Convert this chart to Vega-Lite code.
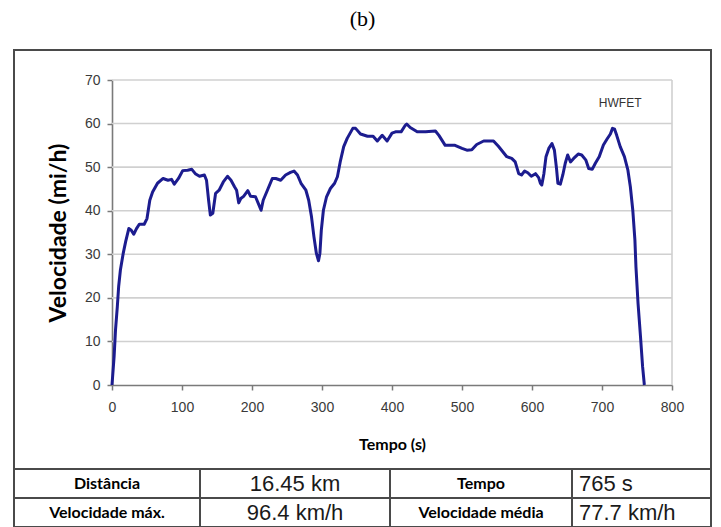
{
  "$schema": "https://vega.github.io/schema/vega-lite/v6.json",
  "title": {
    "text": "(b)",
    "font": "Liberation Serif",
    "fontSize": 22,
    "fontWeight": "normal",
    "color": "#000000",
    "anchor": "middle",
    "offset": 18
  },
  "padding": {"left": 13, "top": 8, "right": 9, "bottom": 0},
  "spacing": 0,
  "bounds": "flush",
  "vconcat": [
    {
      "width": 697,
      "height": 419,
      "view": {"stroke": "#4a4a4a", "strokeWidth": 2},
      "layer": [
        {
          "data": {
            "values": [
              {"x0": 0, "x1": 800, "y0": 10, "y1": 10},
              {"x0": 0, "x1": 800, "y0": 20, "y1": 20},
              {"x0": 0, "x1": 800, "y0": 30, "y1": 30},
              {"x0": 0, "x1": 800, "y0": 40, "y1": 40},
              {"x0": 0, "x1": 800, "y0": 50, "y1": 50},
              {"x0": 0, "x1": 800, "y0": 60, "y1": 60},
              {"x0": 0, "x1": 800, "y0": 70, "y1": 70},
              {"x0": 800, "x1": 800, "y0": 0, "y1": 70}
            ]
          },
          "mark": {"type": "rule", "color": "#d0d0d0", "strokeWidth": 1.6},
          "encoding": {
            "x": {"field": "x0", "type": "quantitative"},
            "x2": {"field": "x1"},
            "y": {"field": "y0", "type": "quantitative"},
            "y2": {"field": "y1"}
          }
        },
        {
          "data": {
            "values": [
              {"t": 0, "v": 0}, {"t": 3, "v": 6.5}, {"t": 5, "v": 12.6}, {"t": 7.6, "v": 18},
              {"t": 9.5, "v": 22.6}, {"t": 12, "v": 26.4}, {"t": 16, "v": 30.2}, {"t": 19.5, "v": 32.9},
              {"t": 24, "v": 35.9}, {"t": 27.5, "v": 35.5}, {"t": 31, "v": 34.6}, {"t": 35, "v": 35.9},
              {"t": 39, "v": 36.9}, {"t": 46, "v": 36.9}, {"t": 50, "v": 38.2}, {"t": 54, "v": 42.4},
              {"t": 58, "v": 44.3}, {"t": 65, "v": 46.3}, {"t": 73, "v": 47.4}, {"t": 80, "v": 47},
              {"t": 85, "v": 47.2}, {"t": 89, "v": 46.1}, {"t": 95, "v": 47.4}, {"t": 101, "v": 49.2},
              {"t": 108, "v": 49.3}, {"t": 114, "v": 49.5}, {"t": 119, "v": 48.5}, {"t": 125, "v": 47.9},
              {"t": 132, "v": 48.2}, {"t": 135, "v": 47}, {"t": 138, "v": 42.4}, {"t": 140.5, "v": 39},
              {"t": 144, "v": 39.4}, {"t": 148, "v": 44}, {"t": 153, "v": 44.7}, {"t": 159, "v": 46.6},
              {"t": 165, "v": 47.9}, {"t": 170, "v": 47}, {"t": 175, "v": 45.5}, {"t": 178, "v": 44.7},
              {"t": 181, "v": 41.8}, {"t": 184, "v": 42.8}, {"t": 188, "v": 43.3}, {"t": 194, "v": 44.6},
              {"t": 198, "v": 43.3}, {"t": 205, "v": 43.2}, {"t": 210, "v": 41.3}, {"t": 213, "v": 40.1},
              {"t": 216, "v": 42.4}, {"t": 222, "v": 44.7}, {"t": 229, "v": 47.4}, {"t": 234, "v": 47.4},
              {"t": 241, "v": 47}, {"t": 248, "v": 48.2}, {"t": 255, "v": 48.8}, {"t": 260, "v": 49.1},
              {"t": 265, "v": 48.2}, {"t": 270, "v": 46.3}, {"t": 277, "v": 44.7}, {"t": 281, "v": 42.4},
              {"t": 285, "v": 38.6}, {"t": 288.5, "v": 34}, {"t": 292, "v": 30.2}, {"t": 295, "v": 28.5},
              {"t": 297, "v": 30.2}, {"t": 299, "v": 35.5}, {"t": 302, "v": 40.1}, {"t": 306.5, "v": 43.2},
              {"t": 312, "v": 45.1}, {"t": 318, "v": 46.3}, {"t": 322, "v": 47.8}, {"t": 326, "v": 51.2},
              {"t": 331, "v": 54.7}, {"t": 336, "v": 56.6}, {"t": 344, "v": 58.9}, {"t": 348, "v": 58.9},
              {"t": 355, "v": 57.6}, {"t": 365, "v": 57.1}, {"t": 373, "v": 57.1}, {"t": 379, "v": 56},
              {"t": 386, "v": 57.3}, {"t": 393, "v": 56}, {"t": 400, "v": 57.8}, {"t": 405, "v": 58.1},
              {"t": 413, "v": 58.1}, {"t": 419, "v": 59.6}, {"t": 421, "v": 59.9}, {"t": 426, "v": 59.1},
              {"t": 436, "v": 58.1}, {"t": 448, "v": 58.1}, {"t": 462, "v": 58.3}, {"t": 467, "v": 57.3},
              {"t": 476, "v": 55}, {"t": 490, "v": 55}, {"t": 500, "v": 54.3}, {"t": 507, "v": 53.9},
              {"t": 514, "v": 54}, {"t": 521, "v": 55.2}, {"t": 531, "v": 56}, {"t": 545, "v": 56},
              {"t": 552, "v": 54.8}, {"t": 564, "v": 52.4}, {"t": 571, "v": 52}, {"t": 576, "v": 51.2},
              {"t": 581, "v": 48.5}, {"t": 585, "v": 48.2}, {"t": 589.5, "v": 49.1}, {"t": 594, "v": 48.7},
              {"t": 599, "v": 47.9}, {"t": 605, "v": 48.5}, {"t": 609.5, "v": 47.6}, {"t": 612, "v": 46.3},
              {"t": 614, "v": 45.9}, {"t": 617, "v": 48.5}, {"t": 620, "v": 52.4}, {"t": 624, "v": 54.3},
              {"t": 628.5, "v": 55.4}, {"t": 632, "v": 53.9}, {"t": 635, "v": 49.7}, {"t": 637, "v": 46.3},
              {"t": 640.5, "v": 46.1}, {"t": 644, "v": 48.2}, {"t": 647.5, "v": 50.9}, {"t": 651, "v": 52.8},
              {"t": 655, "v": 51.2}, {"t": 659.5, "v": 52}, {"t": 666, "v": 53}, {"t": 671, "v": 52.8},
              {"t": 677, "v": 51.6}, {"t": 681, "v": 49.7}, {"t": 686, "v": 49.5}, {"t": 690.5, "v": 50.9},
              {"t": 696, "v": 52.4}, {"t": 702, "v": 55.1}, {"t": 707, "v": 56.4}, {"t": 712, "v": 57.6},
              {"t": 715, "v": 58.9}, {"t": 718, "v": 58.7}, {"t": 721, "v": 57.3}, {"t": 726, "v": 54.7},
              {"t": 732, "v": 52.4}, {"t": 737, "v": 49.3}, {"t": 740.5, "v": 45.5}, {"t": 744, "v": 40.1},
              {"t": 747, "v": 33.3}, {"t": 748.5, "v": 27.1}, {"t": 751.5, "v": 18.7}, {"t": 755, "v": 11.1},
              {"t": 758, "v": 4.2}, {"t": 760.5, "v": 0}
            ]
          },
          "mark": {"type": "line", "color": "#1c1c8f", "strokeWidth": 3, "strokeJoin": "round"},
          "encoding": {
            "x": {
              "field": "t",
              "type": "quantitative",
              "scale": {"domain": [0, 800], "range": [98, 658], "nice": false},
              "axis": {
                "orient": "bottom",
                "offset": -84,
                "values": [0, 100, 200, 300, 400, 500, 600, 700, 800],
                "grid": false,
                "domainColor": "#7a7a7a",
                "domainWidth": 1.6,
                "tickColor": "#7a7a7a",
                "tickWidth": 1.5,
                "tickSize": 5,
                "labelFont": "Liberation Sans",
                "labelFontSize": 14,
                "labelColor": "#3a3a3a",
                "labelPadding": 10,
                "labelFlush": false,
                "title": "Tempo (s)",
                "titleFont": "Lato",
                "titleFontSize": 16,
                "titleFontWeight": "bold",
                "titleColor": "#000000",
                "titlePadding": 22
              }
            },
            "y": {
              "field": "v",
              "type": "quantitative",
              "scale": {"domain": [0, 70], "range": [335, 30], "nice": false},
              "axis": {
                "orient": "left",
                "offset": -98,
                "values": [0, 10, 20, 30, 40, 50, 60, 70],
                "grid": false,
                "domainColor": "#7a7a7a",
                "domainWidth": 1.6,
                "tickColor": "#7a7a7a",
                "tickWidth": 1.5,
                "tickSize": 5,
                "labelFont": "Liberation Sans",
                "labelFontSize": 14,
                "labelColor": "#3a3a3a",
                "labelPadding": 7,
                "labelFlush": false,
                "title": "Velocidade (mi/h)",
                "titleFont": "Lato",
                "titleFontSize": 23,
                "titleFontWeight": "bold",
                "titleColor": "#000000",
                "titlePadding": 14
              }
            }
          }
        },
        {
          "data": {"values": [{"cycle": "HWFET"}]},
          "mark": {"type": "text", "font": "Liberation Sans", "fontSize": 12, "color": "#333333", "letterSpacing": -0.5},
          "encoding": {
            "x": {"datum": 726, "type": "quantitative"},
            "y": {"datum": 64.7, "type": "quantitative"},
            "text": {"field": "cycle"}
          }
        }
      ]
    },
    {
      "width": 697,
      "height": 58,
      "data": {
        "values": [
          {"row": 1, "c": 0, "c2": 1, "cm": 0.5, "kind": "name", "label": "Distância"},
          {"row": 1, "c": 1, "c2": 2, "cm": 1.5, "kind": "value", "label": "16.45 km"},
          {"row": 1, "c": 2, "c2": 3, "cm": 2.5, "kind": "name", "label": "Tempo"},
          {"row": 1, "c": 3, "c2": 4, "cm": 3.5, "kind": "last", "label": "765 s"},
          {"row": 2, "c": 0, "c2": 1, "cm": 0.5, "kind": "name", "label": "Velocidade máx."},
          {"row": 2, "c": 1, "c2": 2, "cm": 1.5, "kind": "value", "label": "96.4 km/h"},
          {"row": 2, "c": 2, "c2": 3, "cm": 2.5, "kind": "name", "label": "Velocidade média"},
          {"row": 2, "c": 3, "c2": 4, "cm": 3.5, "kind": "last", "label": "77.7 km/h"}
        ]
      },
      "encoding": {
        "y": {"field": "row", "type": "ordinal", "scale": {"paddingInner": 0, "paddingOuter": 0}, "axis": null}
      },
      "layer": [
        {
          "mark": {"type": "rect", "fill": "#ffffff", "stroke": "#4a4a4a", "strokeWidth": 2},
          "encoding": {
            "x": {
              "field": "c",
              "type": "quantitative",
              "scale": {"domain": [0, 1, 2, 3, 4], "range": [0, 186, 376, 558, 697], "nice": false, "zero": false},
              "axis": null
            },
            "x2": {"field": "c2"}
          }
        },
        {
          "transform": [{"filter": "datum.kind === 'name'"}],
          "mark": {"type": "text", "font": "Lato", "fontSize": 16, "fontWeight": "bold", "color": "#000000"},
          "encoding": {
            "x": {"field": "cm", "type": "quantitative"},
            "text": {"field": "label"}
          }
        },
        {
          "transform": [{"filter": "datum.kind === 'value'"}],
          "mark": {"type": "text", "font": "Liberation Sans", "fontSize": 22, "color": "#1a1a1a"},
          "encoding": {
            "x": {"field": "cm", "type": "quantitative"},
            "text": {"field": "label"}
          }
        },
        {
          "transform": [{"filter": "datum.kind === 'last'"}],
          "mark": {"type": "text", "font": "Liberation Sans", "fontSize": 22, "color": "#1a1a1a", "align": "left", "dx": 7},
          "encoding": {
            "x": {"field": "c", "type": "quantitative"},
            "text": {"field": "label"}
          }
        }
      ]
    }
  ],
  "config": {
    "view": {"stroke": null},
    "background": "#ffffff"
  }
}
